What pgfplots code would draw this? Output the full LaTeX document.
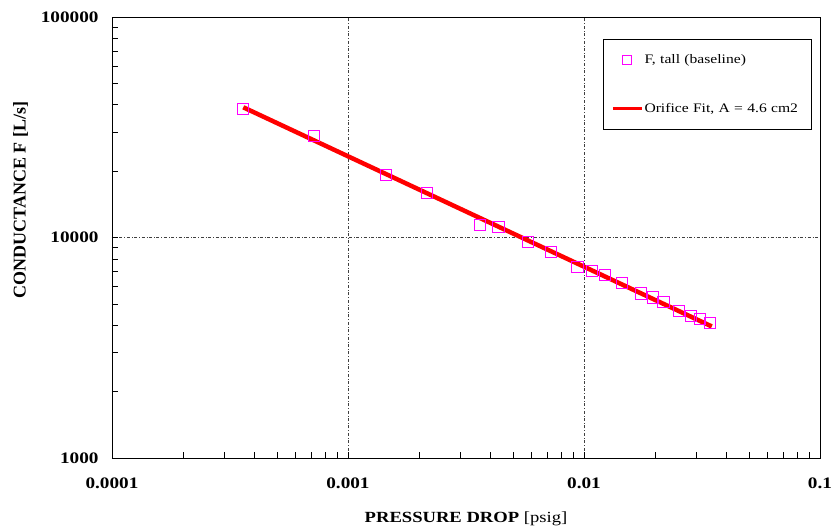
\documentclass[border=0pt]{standalone}
\usepackage{fontspec}
\setmainfont{Liberation Serif}[FakeStretch=1.2]
\newfontfamily\ylabfont{Liberation Serif}
\usepackage{pgfplots}
\pgfplotsset{compat=1.18}
\definecolor{ptmag}{HTML}{FF00FF}
\definecolor{fitred}{HTML}{FF0000}
\pgfplotsset{
  sqlegend/.style={legend image code/.code={\draw[mark repeat=2,mark phase=2,##1,mark size=4.5pt] plot coordinates {(0pt,0pt)(14.5pt,0pt)(29pt,0pt)};}},
  linelegend/.style={legend image code/.code={\draw[##1, line width=3.5pt] (0pt,0pt) -- (29pt,0pt);}},
}

\begin{document}
\begin{tikzpicture}
\begin{axis}[
  xmode=log, ymode=log,
  scale only axis,
  width=708pt, height=441pt,
  xmin=1e-4, xmax=1e-1,
  ymin=1000, ymax=100000,
  xtick={1e-4,1e-3,1e-2,1e-1},
  xticklabels={\textbf{0.0001},\textbf{0.001},\textbf{0.01},\textbf{0.1}},
  ytick={1000,10000,100000},
  yticklabels={\textbf{1000},\textbf{10000},\textbf{100000}},
  tick label style={font=\bfseries\fontsize{16}{19}\selectfont},
  xticklabel style={yshift=-16pt},
  yticklabel style={xshift=-10pt},
  tick align=inside,
  xtick pos=left, ytick pos=left,
  major tick length=0pt,
  minor tick length=6pt,
  every tick/.style={black, line width=0.7pt},
  grid=major,
  major grid style={dash dot, black!75, line width=0.8pt},
  axis line style={black, line width=0.8pt},
  xlabel={\textbf{PRESSURE DROP} [psig]},
  xlabel style={font=\fontsize{15.5}{18}\selectfont, anchor=base, at={(axis description cs:0.5,-0.147)}},
  ylabel={\ylabfont\bfseries CONDUCTANCE F [L/s]},
  ylabel style={font=\fontsize{18}{21}\selectfont, anchor=center, at={(axis description cs:-0.129,0.585)}},
  legend style={at={(axis description cs:0.693,0.949)}, anchor=north west,
    draw=black, line width=0.8pt, fill=white,
    inner xsep=8pt, inner ysep=14pt, row sep=36pt,
    font=\fontsize{13}{15}\selectfont,
    nodes={text width=158pt, inner sep=1pt}},
  legend cell align=left,
]
\addplot[only marks, mark=square, mark size=5.6pt, ptmag, line width=0.9pt,
  mark options={draw=ptmag, fill=none}, sqlegend]
coordinates {
 (0.000359,38300) (0.000719,28860) (0.001445,19150) (0.002165,15960)
 (0.00362,11430) (0.00434,11160) (0.00579,9540) (0.00724,8590)
 (0.00939,7350) (0.01081,7030) (0.01227,6780) (0.01446,6240)
 (0.01738,5580) (0.01954,5350) (0.0217,5110) (0.02535,4640)
 (0.0284,4390) (0.0310,4260) (0.0342,4080)
};
\addlegendentry{F, tall (baseline)}
\addplot[fitred, line width=4.5pt, linelegend]
coordinates {(0.00036,38950) (0.0348,3950)};
\addlegendentry{Orifice Fit, A = 4.6 cm2}
\end{axis}
\pgfresetboundingbox
\path[use as bounding box] (-112pt,-73pt) rectangle (719pt,458pt);
\end{tikzpicture}
\end{document}
